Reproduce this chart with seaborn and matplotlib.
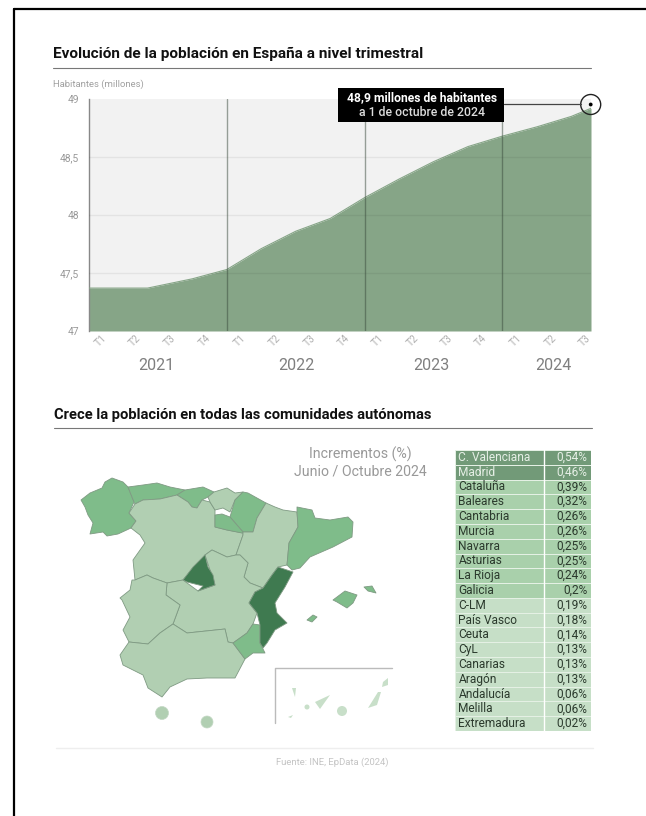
# Poblacion en Espana - area chart, mapa y tabla
import matplotlib
matplotlib.use("Agg")
import matplotlib.pyplot as plt
from matplotlib.colors import ListedColormap, BoundaryNorm
from matplotlib.patches import Polygon, Circle, Rectangle
import seaborn as sns
import pandas as pd

# ---- data ----
quarter_pos = [0, 1, 1.7, 3, 4, 5, 6, 7, 8, 9, 10, 11, 12, 13, 14, 14.57]
population = [47.37, 47.37, 47.37, 47.45, 47.53, 47.71, 47.86, 47.97, 48.15, 48.31, 48.46, 48.59, 48.68, 48.76, 48.85, 48.92]
y_ticks = [47, 47.5, 48, 48.5, 49]
y_tick_labels = ["47", "47,5", "48", "48,5", "49"]
year_lines = [4, 8, 12]
quarter_labels = ["T1", "T2", "T3", "T4"] * 3 + ["T1", "T2", "T3"]
quarter_label_pos = [101, 135, 170, 205, 240, 275, 310, 344, 378, 413, 447, 481, 516, 551, 585]
years = ["2021", "2022", "2023", "2024"]
year_pos = [156, 296, 431, 553]

regions = ["C. Valenciana", "Madrid", "Cataluña", "Baleares", "Cantabria", "Murcia", "Navarra", "Asturias", "La Rioja",
           "Galicia", "C-LM", "País Vasco", "Ceuta", "CyL", "Canarias", "Aragón", "Andalucía", "Melilla", "Extremadura"]
increments = [0.54, 0.46, 0.39, 0.32, 0.26, 0.26, 0.25, 0.25, 0.24, 0.2, 0.19, 0.18, 0.14, 0.13, 0.13, 0.13, 0.06, 0.06, 0.02]
increment_labels = ["0,54%", "0,46%", "0,39%", "0,32%", "0,26%", "0,26%", "0,25%", "0,25%", "0,24%",
                    "0,2%", "0,19%", "0,18%", "0,14%", "0,13%", "0,13%", "0,13%", "0,06%", "0,06%", "0,02%"]

# map outlines in pixels
galicia = [(81,500),(90,493),(102,488),(105,482),(112,478),(123,482),(128,487),(134,502),(129,513),(136,521),(131,528),(118,534),(107,536),(103,532),(90,534),(93,523),(88,515),(85,507)]
asturias = [(128,487),(143,485),(157,483),(170,487),(185,490),(177,495),(160,499),(143,500),(135,504),(134,502)]
cantabria = [(185,490),(203,487),(214,492),(208,497),(202,500),(197,508),(192,507),(188,502),(177,495)]
cyl = [(135,504),(143,500),(160,499),(177,495),(188,502),(192,507),(197,508),(202,500),(210,502),(215,510),(215,527),(227,530),(243,533),(243,535),(236,555),(227,557),(212,550),(205,555),(183,580),(167,583),(153,578),(147,575),(135,580),(133,560),(145,543),(140,535),(131,528),(136,521),(129,513)]
pais_vasco = [(214,492),(227,488),(235,493),(243,492),(235,500),(230,512),(223,508),(215,510),(210,502),(208,497)]
navarra = [(248,493),(266,503),(257,518),(253,532),(243,532),(230,517),(235,500),(243,492)]
la_rioja = [(230,517),(243,532),(242,533),(227,530),(215,527),(215,515),(222,514)]
aragon = [(266,503),(275,507),(283,510),(297,512),(298,527),(289,543),(287,565),(278,567),(272,575),(263,588),(250,583),(244,577),(248,563),(240,555),(236,555),(243,535),(243,532),(253,532),(257,518)]
cataluna = [(297,507),(312,510),(315,518),(330,520),(348,517),(353,522),(352,537),(333,547),(310,557),(300,568),(292,570),(287,565),(289,543),(298,527),(297,512)]
valencia = [(278,567),(293,572),(285,587),(275,603),(277,613),(287,623),(275,630),(267,643),(263,648),(260,643),(260,625),(257,613),(249,603),(255,592),(263,588),(272,575)]
murcia = [(253,624),(260,625),(260,643),(265,653),(253,653),(245,659),(233,643),(247,633)]
andalucia = [(173,624),(187,633),(225,629),(228,642),(233,643),(245,659),(235,678),(225,678),(207,678),(187,679),(170,687),(162,697),(148,688),(143,675),(123,665),(120,655),(129,642),(148,644),(160,633)]
extremadura = [(135,580),(147,575),(153,578),(167,583),(166,595),(180,605),(173,624),(160,633),(148,644),(129,642),(123,630),(130,617),(122,600),(120,598),(130,590),(132,580)]
clm = [(205,555),(212,550),(227,557),(236,555),(240,555),(248,563),(244,577),(250,583),(263,588),(255,592),(249,603),(257,613),(253,624),(247,633),(233,643),(228,642),(225,629),(187,633),(173,624),(180,605),(166,595),(167,583),(183,580),(198,591),(215,585)]
madrid = [(205,555),(208,567),(213,575),(215,585),(198,591),(203,586),(187,582),(183,580),(193,567)]
mallorca = [(333,600),(345,591),(351,593),(357,595),(353,603),(347,608),(337,602)]
menorca = [(364,587),(372,586),(376,593),(368,591)]
ibiza = [(307,620),(313,615),(317,617),(312,622)]
fuerteventura = [(378,692),(381,692),(377,705),(368,708),(373,700)]
lanzarote = [(388,678),(388,685),(382,687),(383,682)]
tenerife = [(315,702),(330,695),(325,702),(320,709)]
la_palma = [(292,688),(296,688),(295,697)]
hierro = [(288,717),(293,715),(291,718)]

# ---- styles ----
W, H = 646, 816
AREA = "#86a587"
DARK = "#3f7a50"
MID = "#7fbc8a"
LIGHT = "#b1cfb2"
PALE = "#c8dfc9"
EDGE = "#7f9a83"

sns.set_theme(style="white")
plt.rcParams["font.family"] = ["Roboto", "DejaVu Sans"]

fig = plt.figure(figsize=(W / 100, H / 100), dpi=100, facecolor="white")


def px_axes(x0, y0, x1, y1, **kw):
    # axes placed with picture pixels (y counted from the top)
    return fig.add_axes([x0 / W, 1 - y1 / H, (x1 - x0) / W, (y1 - y0) / H], **kw)


# overlay in pixel coordinates for frame, titles and map
bg = px_axes(0, 0, W, H)
bg.set_xlim(0, W)
bg.set_ylim(H, 0)
bg.axis("off")

bg.plot([13.5, 13.5], [8.5, H], color="black", lw=1.6)
bg.plot([13.5, W], [8.5, 8.5], color="black", lw=1.6)

bg.text(53, 54, "Evolución de la población en España a nivel trimestral", fontsize=11.1, fontweight="bold", color="#111111", va="center")
bg.plot([53, 591], [67.5, 67.5], color="#777777", lw=0.8)
bg.text(53, 84, "Habitantes (millones)", fontsize=6.8, color="#a0a0a0", va="center")

bg.text(54, 415, "Crece la población en todas las comunidades autónomas", fontsize=10.6, fontweight="bold", color="#111111", va="center")
bg.plot([54, 592], [428, 428], color="#777777", lw=0.8)

bg.text(360, 454, "Incrementos (%)", fontsize=10.2, color="#999999", ha="center", va="center")
bg.text(360, 472, "Junio / Octubre 2024", fontsize=10.2, color="#999999", ha="center", va="center")

bg.plot([56, 593], [748, 748], color="#eeeeee", lw=1)
bg.text(332, 762, "Fuente: INE, EpData (2024)", fontsize=6.8, color="#c4c4c4", ha="center", va="center")

# ---- area chart ----
ax = px_axes(89, 99, 591, 331)
ax.set_facecolor("#f2f2f2")
df = pd.DataFrame({"trimestre": quarter_pos, "habitantes": population})
ax.fill_between(df["trimestre"], df["habitantes"], 47, color=AREA, lw=0, zorder=2)
sns.lineplot(data=df, x="trimestre", y="habitantes", ax=ax, color=AREA, lw=0.8, zorder=3)
for t in y_ticks[1:-1]:
    ax.axhline(t, color="black", alpha=0.06, lw=1, zorder=4)
for q in year_lines:
    ax.axvline(q, color="#3a4a3c", alpha=0.5, lw=1, zorder=4)
ax.set_xlim(0, 14.57)
ax.set_ylim(47, 49)
ax.set_xlabel("")
ax.set_ylabel("")
ax.set_xticks([])
ax.set_yticks(y_ticks)
ax.set_yticklabels(y_tick_labels, fontsize=7.4, color="#999999")
ax.tick_params(axis="y", length=0, pad=7)
for s in ["top", "right", "bottom"]:
    ax.spines[s].set_visible(False)
ax.spines["left"].set_color("#888888")
ax.spines["left"].set_linewidth(1)

for lab, x in zip(quarter_labels, quarter_label_pos):
    bg.text(x, 341, lab, fontsize=7.4, color="#b0b0b0", rotation=45, ha="center", va="center")
for lab, x in zip(years, year_pos):
    bg.text(x, 366, lab, fontsize=11.5, color="#7f7f7f", ha="center", va="center")

# callout, drawn on an overlay above the chart
top = px_axes(0, 0, W, H)
top.set_xlim(0, W)
top.set_ylim(H, 0)
top.axis("off")
top.patch.set_alpha(0)
top.add_patch(Rectangle((338, 88), 166, 33.5, color="black", lw=0))
top.text(422, 97.5, "48,9 millones de habitantes", fontsize=8.75, fontweight="bold", color="white", ha="center", va="center")
top.text(422, 112.5, "a 1 de octubre de 2024", fontsize=8.8, fontweight="medium", color="#dddddd", ha="center", va="center")
top.plot([504, 581], [104, 104], color="#444444", lw=0.9)
top.add_patch(Circle((590.7, 104.5), 10, fc="none", ec="#222222", lw=1))
top.add_patch(Circle((590.7, 104.5), 1.9, fc="black", ec="none"))

# ---- map ----
for shape, col in [(galicia, MID), (asturias, MID), (cantabria, MID), (cyl, LIGHT), (pais_vasco, LIGHT), (navarra, MID),
                   (la_rioja, MID), (aragon, LIGHT), (cataluna, MID), (clm, LIGHT), (extremadura, LIGHT), (andalucia, LIGHT),
                   (murcia, MID), (valencia, DARK), (madrid, DARK), (mallorca, MID), (menorca, MID), (ibiza, MID)]:
    bg.add_patch(Polygon(shape, closed=True, fc=col, ec=EDGE, lw=0.6, joinstyle="round"))
bg.add_patch(Circle((162, 713), 6.5, fc=LIGHT, ec="#c4d8c5", lw=0.5))
bg.add_patch(Circle((207, 722), 6, fc=LIGHT, ec="#c4d8c5", lw=0.5))

# Canarias inset
bg.plot([392, 275, 275], [668, 668, 723], color="#bbbbbb", lw=1)
for shape in [fuerteventura, lanzarote, tenerife, la_palma, hierro]:
    bg.add_patch(Polygon(shape, closed=True, fc=PALE, ec="none"))
bg.add_patch(Circle((342, 711), 5, fc=PALE, ec="none"))
bg.add_patch(Circle((307, 707), 2.5, fc=PALE, ec="none"))

# ---- table, one column heatmap ----
tab = px_axes(455, 450, 591, 731)
table_df = pd.DataFrame({"incremento": increments}, index=regions)
table_cmap = ListedColormap(["#c6dfc7", "#a9d0ab", "#729a78"])
table_norm = BoundaryNorm([0, 0.195, 0.4, 0.6], 3)
sns.heatmap(table_df, ax=tab, cmap=table_cmap, norm=table_norm, cbar=False, linewidths=0.6, linecolor="#e4f0e4",
            xticklabels=False, yticklabels=False)
tab.set_ylabel("")
tab.axvline(0.652, color="white", lw=1)
for i, (name, val) in enumerate(zip(regions, increment_labels)):
    txt_col = "#e6efe6" if i < 2 else "#2b3a2d"
    tab.text(0.025, i + 0.5, name, fontsize=8.6, color=txt_col, va="center", ha="left")
    tab.text(0.975, i + 0.5, val, fontsize=8.6, color=txt_col, va="center", ha="right")

fig.savefig("out.png", dpi=100)
